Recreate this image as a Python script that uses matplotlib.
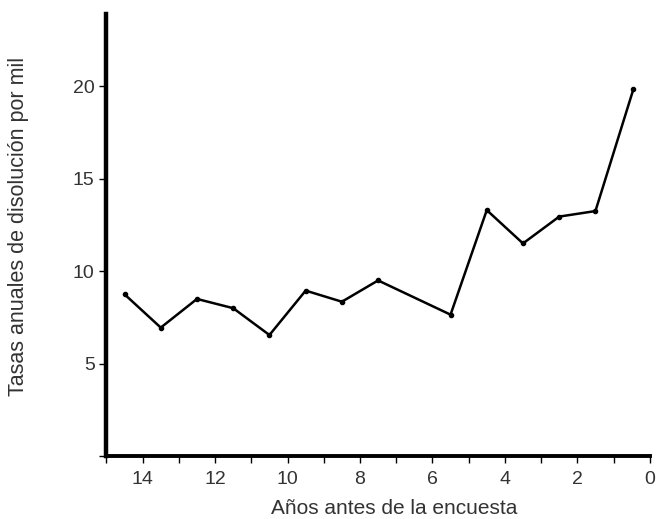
import matplotlib
matplotlib.use("Agg")
import matplotlib.pyplot as plt
from matplotlib.ticker import FixedLocator, NullFormatter

# años antes de la encuesta (centro de cada año) y tasas por mil
years_before = [14.5, 13.5, 12.5, 11.5, 10.5, 9.5, 8.5, 7.5, 5.5, 4.5, 3.5, 2.5, 1.5, 0.45]
rates = [8.75, 6.95, 8.5, 8.0, 6.55, 8.95, 8.35, 9.5, 7.65, 13.3, 11.5, 12.95, 13.25, 19.85]

x_major = [0, 2, 4, 6, 8, 10, 12, 14]
x_minor = list(range(0, 16))
y_ticks = [5, 10, 15, 20]
y_minor = [0]

plt.rcParams["font.family"] = ["Liberation Sans", "DejaVu Sans"]
text_color = "#333333"

fig = plt.figure(figsize=(6.57, 5.19), dpi=100)
ax = fig.add_axes([0.162, 0.121, 0.827, 0.852])

ax.plot(years_before, rates, color="black", linewidth=1.8,
        marker="o", markersize=3.0, solid_joinstyle="miter")

ax.set_xlim(15, 0)
ax.set_ylim(0, 23.9)

for side in ("top", "right"):
    ax.spines[side].set_visible(False)
ax.spines["left"].set_linewidth(3.2)
ax.spines["bottom"].set_linewidth(2.8)

ax.xaxis.set_major_locator(FixedLocator(x_major))
ax.xaxis.set_minor_locator(FixedLocator(x_minor))
ax.xaxis.set_minor_formatter(NullFormatter())
ax.yaxis.set_major_locator(FixedLocator(y_ticks))
ax.yaxis.set_minor_locator(FixedLocator(y_minor))
ax.yaxis.set_minor_formatter(NullFormatter())

ax.tick_params(axis="both", which="both", direction="out", length=5,
               width=1.0, color="black")
ax.tick_params(axis="x", which="major", pad=6, labelsize=14, labelcolor=text_color)
ax.tick_params(axis="y", which="major", pad=3.5, labelsize=14, labelcolor=text_color)

ax.set_xlabel("Años antes de la encuesta", fontsize=15, color=text_color)
ax.set_ylabel("Tasas anuales de disolución por mil", fontsize=15.5, color=text_color)
ax.xaxis.set_label_coords(0.53, -0.097)
ax.yaxis.set_label_coords(-0.142, 0.52)

fig.savefig("out.png", dpi=100)
